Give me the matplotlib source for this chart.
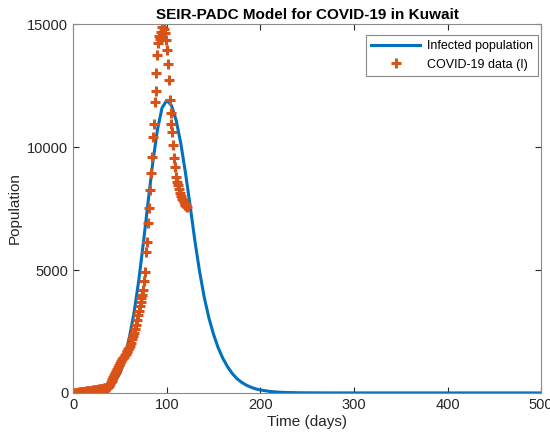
import matplotlib
matplotlib.use("Agg")
import matplotlib.pyplot as plt

plt.rcParams['font.family'] = ['Liberation Sans', 'DejaVu Sans']

# SEIR-PADC model output (days, infected)
model_days = [0, 5, 10, 15, 20, 25, 30, 35, 40, 45, 50, 55, 60, 65, 70, 75, 80, 85, 90, 95,
              100, 105, 110, 115, 120, 125, 130, 135, 140, 145, 150, 155, 160, 165, 170,
              175, 180, 185, 190, 195, 200, 210, 220, 230, 240, 250, 275, 300, 350, 400,
              450, 500]
model_inf = [5, 8, 12, 20, 35, 60, 100, 170, 290, 480, 800, 1330, 2250, 3250, 4550, 6100,
             7750, 9350, 10700, 11600, 11900, 11700, 11100, 10150, 8950, 7600, 6200, 4950,
             3900, 3050, 2380, 1830, 1400, 1060, 790, 580, 430, 315, 230, 165, 120, 60, 30,
             15, 8, 4, 1, 0, 0, 0, 0, 0]

# COVID-19 active cases (one per day)
data_inf = [0, 2, 5, 8, 12, 15, 20, 25, 30, 35, 40, 45, 48, 55, 60, 65, 70, 75, 82, 90,
            95, 100, 105, 110, 118, 125, 130, 138, 145, 150, 158, 165, 172, 180, 190, 200,
            215, 240, 290, 360, 430, 500, 580, 660, 740, 820, 900, 980, 1050, 1130, 1220,
            1290, 1360, 1420, 1480, 1540, 1600, 1660, 1720, 1780, 1840, 1900, 2050, 2200,
            2300, 2450, 2600, 2780, 2970, 3150, 3350, 3550, 3700, 3850, 4000, 4200, 4550,
            4930, 5720, 6150, 6920, 7520, 8250, 8960, 9610, 10420, 10930, 11840, 12290,
            13020, 13740, 14250, 14500, 14400, 14700, 14900, 15050, 14800, 14650, 14350,
            13950, 13370, 12740, 11910, 11370, 10960, 10630, 10080, 9540, 9200, 8800, 8600,
            8460, 8300, 8120, 8000, 7900, 7850, 7780, 7700, 7640, 7600, 7580]
data_days = list(range(len(data_inf)))

blue = '#0072BD'
orange = '#D95319'

fig = plt.figure(figsize=(5.5, 4.4), dpi=100)
ax = fig.add_axes([0.133, 0.107, 0.851, 0.838])

ax.plot(model_days, model_inf, color=blue, lw=2.2, label='Infected population')
ax.plot(data_days, data_inf, ls='none', marker='+', ms=7.5, mew=2.2, color=orange,
        label='COVID-19 data (I)')

ax.set_xlim(0, 500)
ax.set_ylim(0, 15000)
ax.set_xticks([0, 100, 200, 300, 400, 500])
ax.set_yticks([0, 5000, 10000, 15000])
ax.tick_params(direction='in', top=True, right=True, labelsize=10.5, colors='#262626',
               length=4, width=0.8)
for s in ax.spines.values():
    s.set_color('#8a8a8a')
    s.set_linewidth(0.8)

ax.set_xlabel('Time (days)', fontsize=11, color='#262626', labelpad=2)
ax.set_ylabel('Population', fontsize=11, color='#262626', labelpad=4)
ax.set_title('SEIR-PADC Model for COVID-19 in Kuwait', fontsize=11, fontweight='bold',
             pad=4)

leg = ax.legend(loc='upper right', bbox_to_anchor=(0.994, 0.97), fontsize=9,
                fancybox=False, framealpha=1, edgecolor='#8a8a8a', borderaxespad=0,
                borderpad=0.4, handlelength=3.9, handletextpad=0.6)
leg.get_frame().set_linewidth(0.8)

fig.savefig('out.png', dpi=100)
